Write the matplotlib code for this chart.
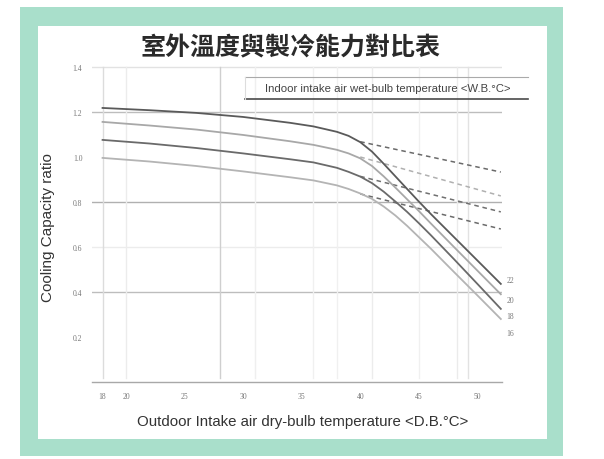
import numpy as np
import matplotlib.pyplot as plt
from matplotlib.patches import Rectangle

W, H = 604, 460

title = '室外溫度與製冷能力對比表'
xlabel = 'Outdoor Intake air dry-bulb temperature <D.B.°C>'
ylabel = 'Cooling Capacity ratio'
box_text = 'Indoor intake air wet-bulb temperature <W.B.°C>'

# outdoor dry-bulb temperature (deg C)
temp = [18, 22, 26, 30, 34, 36, 38, 39, 40, 41, 42, 43, 44, 45, 46, 48, 50, 52]
# cooling capacity ratio per indoor wet-bulb temperature
wb22 = [1.218, 1.208, 1.196, 1.178, 1.152, 1.136, 1.112, 1.094, 1.066, 1.024,
        0.970, 0.914, 0.858, 0.802, 0.748, 0.644, 0.540, 0.436]
wb20 = [1.156, 1.140, 1.122, 1.098, 1.070, 1.054, 1.032, 1.016, 0.994, 0.960,
        0.914, 0.864, 0.812, 0.760, 0.706, 0.600, 0.495, 0.390]
wb18 = [1.076, 1.060, 1.040, 1.016, 0.990, 0.976, 0.952, 0.934, 0.913, 0.884,
        0.846, 0.802, 0.756, 0.706, 0.654, 0.546, 0.436, 0.325]
wb16 = [0.996, 0.980, 0.960, 0.936, 0.910, 0.896, 0.874, 0.858, 0.838, 0.814,
        0.780, 0.740, 0.694, 0.644, 0.594, 0.489, 0.385, 0.280]
curve_labels = ['22', '20', '18', '16']

# dashed extensions beyond the knee
dash_x = [40, 52]
dash22 = [1.068, 0.933]
dash20 = [1.000, 0.827]
dash18 = [0.914, 0.756]
dash16 = [0.836, 0.680]

xticks = [18, 20, 25, 30, 35, 40, 45, 50]
yticks = [0.2, 0.4, 0.6, 0.8, 1.0, 1.2, 1.4]

plt.rcParams['font.family'] = ['Liberation Sans', 'DejaVu Sans']

fig = plt.figure(figsize=(W/100, H/100), dpi=100)

# mint frame round the chart
fig.patches.append(Rectangle((20/W, 1-457/H), 543/W, 449/H, transform=fig.transFigure,
                             facecolor='#a9dfcb', edgecolor='none', zorder=-3))
fig.patches.append(Rectangle((38/W, 1-440/H), 509/W, 413/H, transform=fig.transFigure,
                             facecolor='white', edgecolor='none', zorder=-2))

ax = fig.add_axes([92/W, 1-383/H, 410/W, 319.5/H])
ax.set_facecolor('none')
ax.set_xlim(17.1, 52.1)
ax.set_ylim(0, 1.42)

# grid lines
for yv, c in [(1.4, '#e2e2e2'), (1.2, '#bdbdbd'), (0.8, '#b0b0b0'), (0.6, '#ececec'), (0.4, '#bdbdbd')]:
    ax.plot([17.1, 52.1], [yv, yv], color=c, lw=1, zorder=1)
for xv, c in [(18, '#dcdcdc'), (20, '#ececec'), (28, '#cfcfcf'), (31, '#efefef'), (36, '#f0f0f0'),
              (38, '#f0f0f0'), (41, '#ececec'), (45, '#f0f0f0'), (48.3, '#ebebeb'), (49.2, '#e2e2e2')]:
    ax.plot([xv, xv], [0.02, 1.4], color=c, lw=1, zorder=1)

colors = ['#5a5a5a', '#a8a8a8', '#6a6a6a', '#b4b4b4']
curves = [wb22, wb20, wb18, wb16]
for vals, c, lab, dy in zip(curves, colors, curve_labels, [3, -4, -5, -10]):
    ax.plot(temp, vals, color=c, lw=1.3, zorder=3)
    ax.annotate(lab, xy=(temp[-1], vals[-1]), xytext=(4, dy), textcoords='offset points',
                fontsize=5.5, color='#777777', family='Liberation Serif', va='center',
                annotation_clip=False)

dcolors = ['#6a6a6a', '#b0b0b0', '#707070', '#6a6a6a']
for vals, c in zip([dash22, dash20, dash18, dash16], dcolors):
    ax.plot(dash_x, vals, color=c, lw=1.1, ls=(0, (3, 2.5)), zorder=2)

for s in ['top', 'right', 'left']:
    ax.spines[s].set_visible(False)
ax.spines['bottom'].set_color('#a8a8a8')
ax.spines['bottom'].set_linewidth(1)
ax.set_xticks(xticks)
ax.set_yticks(yticks)
ax.set_xticklabels([str(v) for v in xticks], fontsize=5.5, color='#777777', family='Liberation Serif')
ax.set_yticklabels(['%.1f' % v for v in yticks], fontsize=5.5, color='#777777', family='Liberation Serif')
ax.tick_params(length=0, pad=7)

# legend-like caption box
fig.add_artist(plt.Line2D([245/W, 528/W], [1-78/H, 1-78/H], color='#aaaaaa', lw=0.8))
fig.add_artist(plt.Line2D([245/W, 528/W], [1-99.5/H, 1-99.5/H], color='#4a4a4a', lw=1.2))
fig.add_artist(plt.Line2D([245/W, 245/W], [1-78/H, 1-99.5/H], color='#dddddd', lw=0.8))
fig.text(388/W, 1-89/H, box_text, fontsize=8.2, color='#444444', ha='center', va='center')

fig.text(290/W, 1-48/H, title, fontsize=18, fontweight='bold', ha='center', va='center',
         family=['Noto Sans CJK TC', 'DejaVu Sans'], color='#2a2a2a')
fig.text(303/W, 1-422/H, xlabel, fontsize=10.8, ha='center', va='center', color='#333333')
fig.text(48/W, 1-228/H, ylabel, fontsize=11, ha='center', va='center', rotation=90, color='#333333')

fig.savefig('out.png', dpi=100)
